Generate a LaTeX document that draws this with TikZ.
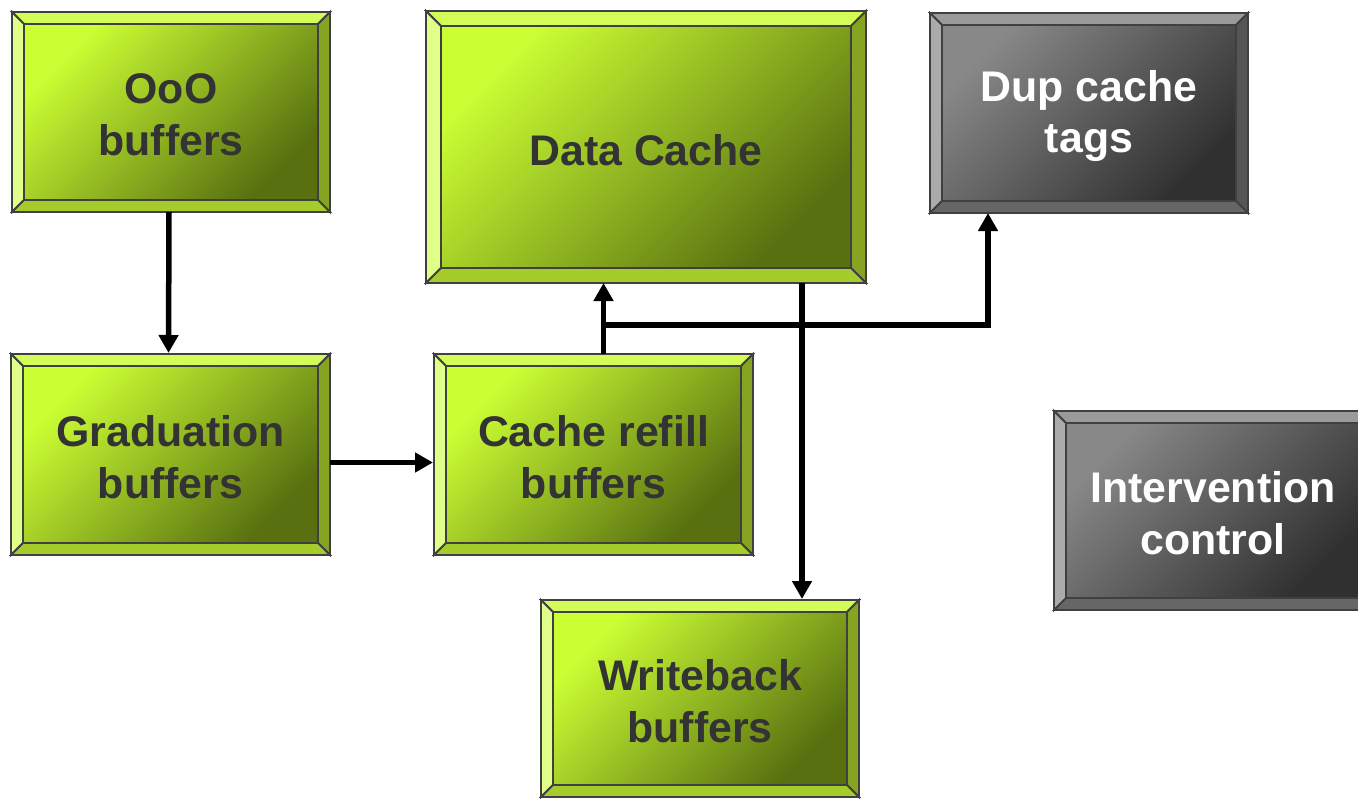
\documentclass[tikz,border=0pt]{standalone}
\usepackage{fontspec}
\setmainfont{Liberation Sans}
\usetikzlibrary{arrows.meta,calc}

\definecolor{gface1}{HTML}{CCFF33}
\definecolor{gface2}{HTML}{587010}
\definecolor{gtopc}{HTML}{D4FC58}
\definecolor{gleftc}{HTML}{E0FF88}
\definecolor{grightc}{HTML}{86A322}
\definecolor{gbottomc}{HTML}{A6CC2C}
\definecolor{kface1}{HTML}{888888}
\definecolor{kface2}{HTML}{303030}
\definecolor{ktopc}{HTML}{9A9A9A}
\definecolor{kleftc}{HTML}{ABABAB}
\definecolor{krightc}{HTML}{555555}
\definecolor{kbottomc}{HTML}{666666}
\definecolor{edgec}{HTML}{404040}
\definecolor{inkc}{HTML}{333333}

\tikzset{
  bevedge/.style={draw=edgec, line width=1.8bp, line join=miter},
  gface/.style={top color=gface1, bottom color=gface2, shading angle=45},
  gtop/.style={fill=gtopc}, gleft/.style={fill=gleftc},
  gright/.style={fill=grightc}, gbottom/.style={fill=gbottomc},
  gtext/.style={text=inkc},
  kface/.style={top color=kface1, bottom color=kface2, shading angle=45},
  ktop/.style={fill=ktopc}, kleft/.style={fill=kleftc},
  kright/.style={fill=krightc}, kbottom/.style={fill=kbottomc},
  ktext/.style={text=white},
  boxlabel/.style={font=\fontsize{43}{52}\selectfont\bfseries, align=center,
    inner sep=0pt, outer sep=0pt},
  arr/.style={draw=black, line width=5.5bp,
    -{Triangle[length=18bp,width=19bp]}},
}

% bevelled block: name, x1, y1, x2, y2, bevel depth, palette, text
\newcommand{\bevelbox}[8]{%
  \pgfmathsetmacro\bvxa{#2+#6}\pgfmathsetmacro\bvya{#3+#6}%
  \pgfmathsetmacro\bvxb{#4-#6}\pgfmathsetmacro\bvyb{#5-#6}%
  \pgfmathsetmacro\bvw{#4-#2}\pgfmathsetmacro\bvh{#5-#3}%
  \shade[#7face] (\bvxa,\bvya) rectangle (\bvxb,\bvyb);
  \path[#7top,bevedge] (#2,#3) -- (#4,#3) -- (\bvxb,\bvya) -- (\bvxa,\bvya) -- cycle;
  \path[#7left,bevedge] (#2,#3) -- (\bvxa,\bvya) -- (\bvxa,\bvyb) -- (#2,#5) -- cycle;
  \path[#7right,bevedge] (#4,#3) -- (#4,#5) -- (\bvxb,\bvyb) -- (\bvxb,\bvya) -- cycle;
  \path[#7bottom,bevedge] (#2,#5) -- (\bvxa,\bvyb) -- (\bvxb,\bvyb) -- (#4,#5) -- cycle;
  \node[minimum width=\bvw bp, minimum height=\bvh bp, inner sep=0pt, outer sep=0pt]
    (#1) at ({(#2+#4)/2},{(#3+#5)/2}) {};
  \node[boxlabel, #7text] at ([yshift=-3bp]#1.center) {#8};
}

\begin{document}
\begin{tikzpicture}[x=1bp, y=-1bp]
  \useasboundingbox (0,0) rectangle (1358,798);
  \clip (0,0) rectangle (1358,798);

  \bevelbox{ooo}{12}{12}{330}{212}{12}{g}{OoO\\buffers}
  \bevelbox{dcache}{426}{11}{866}{283}{15}{g}{Data Cache}
  \bevelbox{dup}{930}{13}{1248}{213}{12}{k}{Dup cache\\tags}
  \bevelbox{grad}{11}{354}{330}{555}{12}{g}{Graduation\\buffers}
  \bevelbox{refill}{434}{354}{753}{555}{12}{g}{Cache refill\\buffers}
  \bevelbox{interv}{1054}{411}{1372}{610}{12}{k}{Intervention\\control}
  \bevelbox{wback}{541}{600}{859}{797}{12}{g}{Writeback\\buffers}

  % routing points of the shared bus
  \coordinate (riser) at ([xshift=10bp]refill.north);
  \coordinate (tee) at (603,325);
  \coordinate (wbx) at (802,0);

  \draw[arr] ([xshift=-2bp]ooo.south) -- ([xshift=-2bp,yshift=1bp]grad.north);
  \draw[arr] ([yshift=-8bp]grad.east) -- ([yshift=-8bp,xshift=-1bp]refill.west);
  \draw[arr] (riser) -- (riser |- dcache.south);
  \draw[arr] (tee) -| ([xshift=-101bp]dup.south);
  \draw[arr] (dcache.south -| wbx) -- ([yshift=1bp]wback.north -| wbx);
\end{tikzpicture}
\end{document}
